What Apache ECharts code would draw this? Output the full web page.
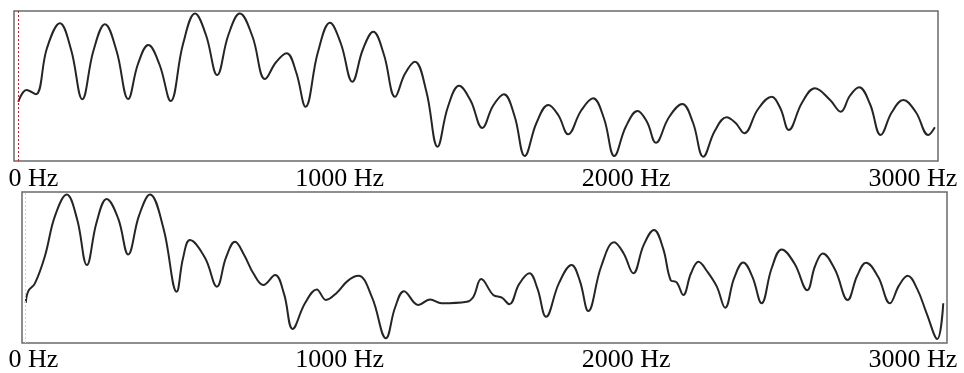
<!DOCTYPE html>
<html>
<head>
<meta charset="utf-8">
<title>Spectrum</title>
<script src="https://cdn.jsdelivr.net/npm/echarts@6/dist/echarts.min.js"></script>
<style>
  html, body { margin: 0; padding: 0; background: #fff; }
  #chart { width: 964px; height: 373px; }
</style>
</head>
<body>
<div id="chart"></div>
<script>
// top spectrum: frequency (Hz) and level (dB)
const topFreq = [0, 29, 61, 100, 145, 184, 223, 262, 302, 342, 383, 417, 453, 492, 531, 574, 616, 654, 693, 732,
  772, 816, 860, 898, 935, 968, 1001, 1044, 1086, 1124, 1164, 1201, 1237, 1274, 1313, 1347, 1382, 1422, 1461, 1497,
  1536, 1576, 1617, 1654, 1692, 1729, 1765, 1806, 1847, 1882, 1916, 1961, 2003, 2041, 2077, 2117, 2158, 2191, 2222, 2267,
  2314, 2351, 2387, 2427, 2468, 2499, 2530, 2577, 2625, 2656, 2685, 2731, 2776, 2829, 2866, 2898, 2930, 2968, 3005, 3044,
  3084, 3128, 3171, 3194];
const topLevel = [23.7, 28.4, 26.7, 45.2, 55.1, 44.5, 24.7, 44.2, 54.7, 44.2, 24.8, 38.8, 46.4, 38.6, 24.0, 46.8, 59.0, 50.4, 34.4, 50.4,
  59.0, 49.8, 32.8, 39.5, 43.1, 35.6, 21.7, 43.5, 55.3, 47.0, 31.7, 44.7, 51.7, 42.6, 25.7, 34.8, 39.7, 27.8, 5.7, 21.6,
  30.1, 24.2, 13.2, 22.0, 26.7, 18.1, 2.0, 15.3, 22.4, 18.3, 10.7, 20.1, 25.1, 17.0, 2.0, 13.7, 20.0, 15.6, 7.3, 17.4,
  22.8, 15.4, 1.7, 12.0, 17.5, 15.3, 11.1, 20.6, 25.7, 21.0, 12.4, 23.3, 29.1, 24.4, 19.7, 26.1, 29.5, 22.8, 10.4, 19.5,
  24.4, 19.5, 10.4, 13.5];

// bottom spectrum
const bottomFreq = [0, 9, 32, 67, 102, 143, 179, 213, 247, 282, 322, 357, 395, 433, 480, 526, 548, 572, 625, 666,
  698, 729, 761, 793, 828, 869, 900, 930, 973, 1014, 1046, 1084, 1121, 1159, 1207, 1255, 1287, 1318, 1368, 1409,
  1449, 1537, 1560, 1587, 1629, 1659, 1685, 1719, 1755, 1783, 1813, 1858, 1902, 1931, 1960, 2005, 2050, 2083, 2117, 2153,
  2189, 2221, 2247, 2268, 2291, 2318, 2344, 2374, 2408, 2437, 2468, 2500, 2532, 2564, 2599, 2634, 2679, 2723, 2750, 2777,
  2820, 2864, 2897, 2928, 2970, 3011, 3043, 3073, 3106, 3139, 3176, 3197];
const bottomLevel = [15.9, 20.6, 23.7, 34.6, 50.5, 59.0, 49.2, 31.0, 48.0, 57.2, 49.5, 35.2, 50.7, 59.0, 45.5, 20.4, 33.7, 40.9, 33.8, 22.4,
  34.0, 40.2, 35.0, 27.7, 23.0, 27.0, 19.5, 5.6, 15.8, 21.3, 17.1, 20.0, 24.6, 26.7, 18.0, 1.9, 14.1, 20.6, 15.1, 17.3,
  15.8, 16.4, 18.4, 25.4, 19.1, 18.0, 15.4, 23.4, 27.7, 21.6, 10.4, 23.8, 31.0, 24.6, 12.7, 30.4, 40.0, 35.7, 27.7, 38.9,
  44.9, 37.5, 25.0, 24.1, 19.1, 27.7, 32.3, 28.5, 22.4, 14.0, 25.7, 32.0, 26.3, 15.8, 29.7, 37.2, 31.5, 21.0, 30.5, 35.6,
  29.1, 17.1, 26.7, 31.9, 26.3, 15.8, 22.9, 26.7, 21.5, 11.8, 1.6, 15.8];

const tickValues = [0, 1000, 2000, 3000];

const zip = (xs, ys) => xs.map((x, i) => [x, ys[i]]);

const chart = echarts.init(document.getElementById('chart'), null, { renderer: 'canvas' });

function labelAxis(gridIndex, margin) {
  return {
    type: 'value',
    gridIndex: gridIndex,
    min: 0,
    max: 3300,
    interval: 1000,
    axisLine: { show: false },
    axisTick: { show: false },
    splitLine: { show: false },
    axisLabel: {
      margin: margin,
      align: 'left',
      color: '#000',
      fontFamily: 'Liberation Serif',
      fontSize: 26,
      formatter: v => (tickValues.indexOf(v) >= 0 ? v + ' Hz' : '')
    }
  };
}

function spectrum(axisIndex, freq, level, cursorColor) {
  return {
    type: 'line',
    xAxisIndex: axisIndex,
    yAxisIndex: axisIndex,
    data: zip(freq, level),
    smooth: 0.4,
    showSymbol: false,
    lineStyle: { color: '#252525', width: 2 },
    markLine: {
      silent: true,
      symbol: 'none',
      label: { show: false },
      lineStyle: { color: cursorColor, type: [2, 2], width: 1 },
      data: [{ xAxis: 0 }]
    }
  };
}

const option = {
  animation: false,
  grid: [
    { left: 14, right: 26, top: 11, height: 150, show: true, borderColor: '#6a6a6a', borderWidth: 1.5 },
    { left: 22, right: 17, top: 192, height: 151, show: true, borderColor: '#6a6a6a', borderWidth: 1.5 },
    { left: 8.5, right: 9.5, top: 11, height: 150 },
    { left: 8.5, right: 9.5, top: 192, height: 151 }
  ],
  xAxis: [
    { type: 'value', gridIndex: 0, min: -15, max: 3205, show: false },
    { type: 'value', gridIndex: 1, min: -13, max: 3210, show: false },
    labelAxis(2, 5),
    labelAxis(3, 6)
  ],
  yAxis: [
    { type: 'value', gridIndex: 0, min: 0, max: 60, show: false },
    { type: 'value', gridIndex: 1, min: 0, max: 60, show: false },
    { type: 'value', gridIndex: 2, min: 0, max: 60, show: false },
    { type: 'value', gridIndex: 3, min: 0, max: 60, show: false }
  ],
  series: [
    spectrum(0, topFreq, topLevel, '#c02020'),
    spectrum(1, bottomFreq, bottomLevel, '#f2cccc')
  ]
};

chart.setOption(option);
</script>
</body>
</html>
